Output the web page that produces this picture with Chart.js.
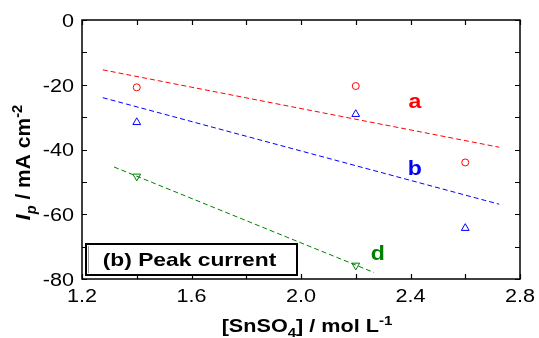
<!DOCTYPE html>
<html>
<head>
<meta charset="utf-8">
<script src="https://cdn.jsdelivr.net/npm/chart.js@4.4.0/dist/chart.umd.min.js"></script>
<style>
  body { margin: 0; background: #fff; }
  #wrap { width: 539px; height: 338px; }
</style>
</head>
<body>
<div id="wrap"><canvas id="chart"></canvas></div>
<script>
// concentration of SnSO4 (mol/L)
const concA = [1.4, 2.2, 2.6];
const peakA = [-20.8, -20.4, -44.0];
const concB = [1.4, 2.2, 2.6];
const peakB = [-31.6, -29.1, -64.3];
const concD = [1.4, 2.2];
const peakD = [-48.3, -75.8];

// dashed fit lines (end points)
const fitAx = [1.276, 2.724];
const fitAy = [-15.4, -39.3];
const fitBx = [1.276, 2.724];
const fitBy = [-24.0, -56.9];
const fitDx = [1.317, 2.267];
const fitDy = [-45.4, -78.0];

// curve labels
const curveNames = ['a', 'b', 'd'];
const curveLabelX = [2.416, 2.416, 2.281];
const curveLabelY = [-25.3, -46.0, -72.2];

const xTicks = [1.2, 1.6, 2.0, 2.4, 2.8];
const yTicks = [-80, -60, -40, -20, 0];

const RED = '#ff0000', BLUE = '#0000ff', GREEN = '#008000';
const FONT = 'Arial, "Liberation Sans", sans-serif';
const SX = 1.2; // text in the original is a bit wide

function pts(xs, ys) {
    return xs.map((x, i) => ({ x: x, y: ys[i] }));
}

function markers(label, xs, ys, color, style, rot, r) {
    return {
        label: label,
        data: pts(xs, ys),
        showLine: false,
        pointStyle: style,
        rotation: rot,
        pointRadius: r,
        pointBorderWidth: 1,
        borderColor: color,
        backgroundColor: 'rgba(0,0,0,0)'
    };
}

function fit(label, xs, ys, color) {
    return {
        label: label,
        data: pts(xs, ys),
        showLine: true,
        pointRadius: 0,
        borderWidth: 1,
        borderDash: [5, 3],
        borderColor: color,
        fill: false
    };
}

// text squeezed/stretched horizontally
function wideText(ctx, txt, x, y, align, sx) {
    ctx.save();
    ctx.translate(x, y);
    ctx.scale(sx, 1);
    ctx.textAlign = align;
    ctx.fillText(txt, 0, 0);
    ctx.restore();
}

// draws a string made of pieces (sub / sup / italic), centred on 0
function drawRich(ctx, parts, size) {
    let total = 0;
    parts.forEach(p => {
        const s = p.sub || p.sup ? size * 0.7 : size;
        ctx.font = (p.it ? 'italic ' : '') + 'bold ' + s + 'px ' + FONT;
        p.w = ctx.measureText(p.t).width;
        total += p.w;
    });
    let x = -total / 2;
    ctx.textAlign = 'left';
    parts.forEach(p => {
        const s = p.sub || p.sup ? size * 0.7 : size;
        ctx.font = (p.it ? 'italic ' : '') + 'bold ' + s + 'px ' + FONT;
        let dy = 0;
        if (p.sub) dy = size * 0.3;
        if (p.sup) dy = -size * 0.4;
        ctx.fillText(p.t, x, dy);
        x += p.w;
    });
}

const decor = {
    id: 'decor',
    afterDraw(chart) {
        const ctx = chart.ctx;
        const a = chart.chartArea;
        const xs = chart.scales.x, ys = chart.scales.y;
        ctx.save();
        ctx.strokeStyle = '#000';
        ctx.lineWidth = 1.5;
        ctx.strokeRect(a.left, a.top, a.right - a.left, a.bottom - a.top);

        // inward ticks on all four sides
        ctx.lineWidth = 1.2;
        ctx.beginPath();
        for (let v = 1.2; v <= 2.8001; v += 0.2) {
            const px = Math.round(xs.getPixelForValue(v)) + 0.5;
            ctx.moveTo(px, a.bottom); ctx.lineTo(px, a.bottom - 5);
            ctx.moveTo(px, a.top); ctx.lineTo(px, a.top + 5);
        }
        for (let v = -80; v <= 0; v += 10) {
            const py = Math.round(ys.getPixelForValue(v)) + 0.5;
            ctx.moveTo(a.left, py); ctx.lineTo(a.left + 5, py);
            ctx.moveTo(a.right, py); ctx.lineTo(a.right - 5, py);
        }
        ctx.stroke();

        // tick labels
        ctx.fillStyle = '#000';
        ctx.font = '18px ' + FONT;
        ctx.textBaseline = 'middle';
        xTicks.forEach(v => wideText(ctx, v.toFixed(1), xs.getPixelForValue(v), a.bottom + 18, 'center', SX));
        yTicks.forEach(v => wideText(ctx, String(v), a.left - 8, ys.getPixelForValue(v) + 2, 'right', SX));

        // curve letters
        const cols = [RED, BLUE, GREEN];
        ctx.font = 'bold 21px ' + FONT;
        curveNames.forEach((n, i) => {
            ctx.fillStyle = cols[i];
            wideText(ctx, n, xs.getPixelForValue(curveLabelX[i]), ys.getPixelForValue(curveLabelY[i]), 'center', 1.1);
        });

        // panel label box
        const bx = a.left + 4, by = a.bottom - 35, bw = 211, bh = 31;
        ctx.fillStyle = '#fff';
        ctx.fillRect(bx, by, bw, bh);
        ctx.strokeStyle = '#000';
        ctx.lineWidth = 2;
        ctx.strokeRect(bx, by, bw, bh);
        ctx.strokeStyle = '#999';
        ctx.lineWidth = 1;
        ctx.beginPath();
        ctx.moveTo(bx + 2.5, by + 2); ctx.lineTo(bx + 2.5, by + bh - 2);
        ctx.stroke();
        ctx.fillStyle = '#000';
        ctx.font = 'bold 19px ' + FONT;
        wideText(ctx, '(b) Peak current', bx + bw / 2 - 2, by + bh / 2 + 1, 'center', SX);

        // axis titles
        ctx.textBaseline = 'alphabetic';
        ctx.save();
        ctx.translate((a.left + a.right) / 2 + 6, 332);
        ctx.scale(SX, 1);
        drawRich(ctx, [
            { t: '[SnSO' }, { t: '4', sub: true }, { t: '] / mol L' }, { t: '-1', sup: true }
        ], 18);
        ctx.restore();

        ctx.save();
        ctx.translate(30, (a.top + a.bottom) / 2 + 13);
        ctx.rotate(-Math.PI / 2);
        drawRich(ctx, [
            { t: 'I', it: true }, { t: 'p', it: true, sub: true }, { t: ' / mA cm' }, { t: '-2', sup: true }
        ], 21);
        ctx.restore();
        ctx.restore();
    }
};

new Chart(document.getElementById('chart'), {
    type: 'scatter',
    data: {
        datasets: [
            fit('fit a', fitAx, fitAy, RED),
            fit('fit b', fitBx, fitBy, BLUE),
            fit('fit d', fitDx, fitDy, GREEN),
            markers('a', concA, peakA, RED, 'circle', 0, 3.5),
            markers('b', concB, peakB, BLUE, 'triangle', 0, 4.5),
            markers('d', concD, peakD, GREEN, 'triangle', 180, 4.5)
        ]
    },
    options: {
        responsive: true,
        maintainAspectRatio: false,
        animation: false,
        layout: { padding: { top: 20, right: 19, left: 0, bottom: 0 } },
        plugins: { legend: { display: false }, tooltip: { enabled: false } },
        scales: {
            x: {
                type: 'linear',
                min: 1.2,
                max: 2.8,
                afterFit: s => { s.height = 59; },
                afterBuildTicks: s => { s.ticks = xTicks.map(v => ({ value: v })); },
                grid: { display: false, drawTicks: false },
                border: { display: false },
                ticks: { display: false }
            },
            y: {
                min: -80,
                max: 0,
                afterFit: s => { s.width = 82; },
                afterBuildTicks: s => { s.ticks = yTicks.map(v => ({ value: v })); },
                grid: { display: false, drawTicks: false },
                border: { display: false },
                ticks: { display: false }
            }
        }
    },
    plugins: [decor]
});
</script>
</body>
</html>
